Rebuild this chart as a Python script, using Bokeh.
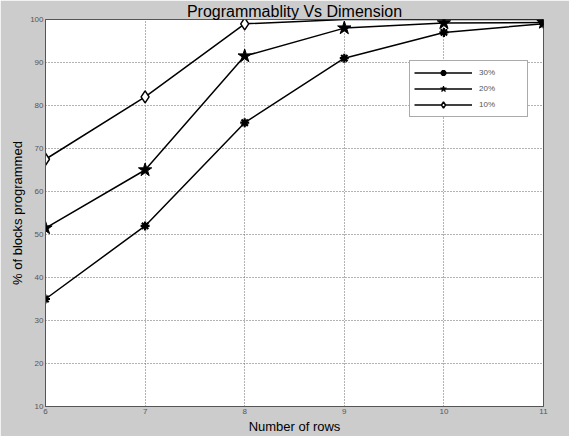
from bokeh.plotting import figure
from bokeh.models import Range1d, FixedTicker, Legend, LegendItem
from bokeh.embed import file_html
from bokeh.resources import INLINE

rows = [6, 7, 8, 9, 10, 11]
p30 = [35, 52, 76, 91, 97, 99]
p20 = [51.5, 65, 91.5, 98, 99.2, 99.3]
p10 = [67.5, 82, 99, 100, 100, 100]
x_ticks = [6, 7, 8, 9, 10, 11]
y_ticks = [10, 20, 30, 40, 50, 60, 70, 80, 90, 100]

GRAY = "#cccccc"
FONT = "Liberation Sans"

p = figure(width=569, height=426, output_backend="svg", toolbar_location=None,
           x_range=Range1d(6, 11), y_range=Range1d(10, 100),
           title="Programmablity Vs Dimension")
p.frame_width = 498
p.frame_height = 387
p.min_border_left = 45
p.min_border_right = 26
p.min_border_top = 0
p.min_border_bottom = 0
p.border_fill_color = GRAY
p.background_fill_color = "white"
p.outline_line_color = "#555555"
p.outline_line_width = 1

p.title.align = "center"
p.title.text_font = FONT
p.title.text_font_size = "16px"
p.title.text_font_style = "normal"
p.title.text_color = "black"
p.title.standoff = 0
p.title.offset = 0

for ax in (p.xaxis[0], p.yaxis[0]):
    ax.axis_line_color = "#555555"
    ax.major_tick_in = 0
    ax.major_tick_out = 0
    ax.minor_tick_in = 0
    ax.minor_tick_out = 0
    ax.major_label_text_font = FONT
    ax.major_label_text_font_size = "8px"
    ax.major_label_text_color = "#555555"
    ax.axis_label_text_font = FONT
    ax.axis_label_text_font_size = "13px"
    ax.axis_label_text_font_style = "normal"
    ax.axis_label_text_color = "black"
    ax.major_label_standoff = 2
    ax.axis_label_standoff = 2

p.xaxis.ticker = FixedTicker(ticks=x_ticks)
p.yaxis.ticker = FixedTicker(ticks=y_ticks)
p.xaxis.axis_label = "Number of rows"
p.yaxis.axis_label = "% of blocks programmed"

p.grid.grid_line_color = "#666666"
p.grid.grid_line_dash = "1 2"
p.grid.grid_line_width = 1

l30 = p.line(rows, p30, line_color="black", line_width=1.5)
s30 = p.scatter(rows, p30, marker="asterisk", size=9, line_color="black", line_width=2.2)
l20 = p.line(rows, p20, line_color="black", line_width=1.5)
s20 = p.scatter(rows, p20, marker="star", size=14, fill_color="black", line_color="black")
l10 = p.line(rows, p10, line_color="black", line_width=1.5)
mx = [r for r, v in zip(rows, p10) if v < 100]
my = [v for v in p10 if v < 100]
s10 = p.scatter(mx, my, marker="diamond", size=12, fill_color="white", line_color="black", line_width=1.5)

legend = Legend(items=[
    LegendItem(label="30%", renderers=[l30, s30]),
    LegendItem(label="20%", renderers=[l20, s20]),
    LegendItem(label="10%", renderers=[l10, s10]),
], location=(364, 289))
legend.label_text_font = FONT
legend.label_text_font_size = "8px"
legend.label_text_color = "#555555"
legend.glyph_width = 58
legend.glyph_height = 15
legend.spacing = 1
legend.padding = 4
legend.margin = 0
legend.label_standoff = 7
legend.label_width = 44
legend.label_height = 12
legend.border_line_color = "#555555"
legend.border_line_width = 1
legend.background_fill_alpha = 1
p.add_layout(legend, "center")

open("out.html", "w").write(file_html(p, INLINE))
